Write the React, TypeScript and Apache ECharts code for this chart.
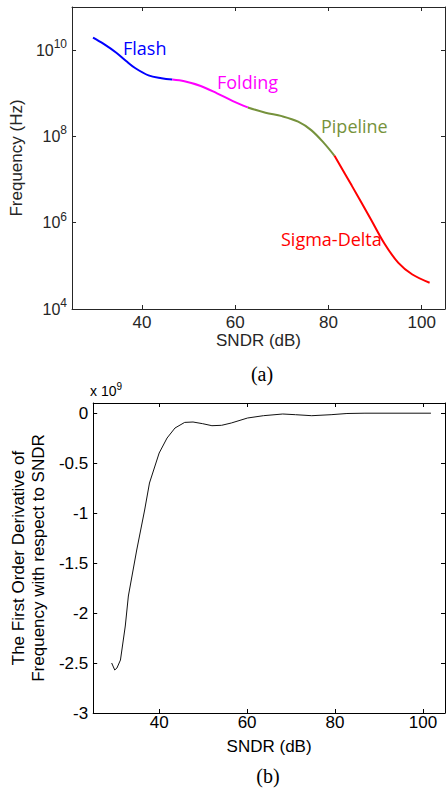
import React, { useEffect, useRef } from 'react';
import * as echarts from 'echarts';

// ---- Data (a): frequency vs SNDR, by ADC architecture ----
const flashSndr = [29.5, 31.7, 34.5, 36.6, 38.6, 41.4, 44.2, 46.5];
const flashFreq = [1.95e10, 1.41e10, 8.7e9, 5.6e9, 3.8e9, 2.6e9, 2.24e9, 2.09e9];
const foldingSndr = [46.5, 49.1, 52.6, 56.1, 59.5, 62.7];
const foldingFreq = [2.09e9, 1.9e9, 1.48e9, 1.0e9, 6.6e8, 4.7e8];
const pipelineSndr = [62.7, 66.5, 70.0, 73.5, 76.3, 79.1, 81.3];
const pipelineFreq = [4.7e8, 3.55e8, 2.95e8, 2.2e8, 1.4e8, 6.9e7, 3.55e7];
const sigmaSndr = [81.3, 85.0, 89.0, 92.0, 95.0, 98.0, 101.7];
const sigmaFreq = [3.55e7, 7.24e6, 1.26e6, 3.31e5, 1.17e5, 6.3e4, 4.07e4];

// ---- Data (b): first-order derivative (x 10^9) ----
const derivSndr = [29.2, 29.9, 30.4, 31.2, 32.3, 33.0, 34.9, 36.7, 37.8, 40.0, 41.8, 43.6, 45.8, 47.7, 49.9, 52.0, 54.2, 56.4, 60.1, 63.7, 68.1, 71.0, 74.7, 79.1, 82.7, 86.8, 101.8];
const derivValue = [-2.5, -2.57, -2.55, -2.47, -2.13, -1.83, -1.37, -0.97, -0.7, -0.4, -0.25, -0.15, -0.094, -0.09, -0.107, -0.127, -0.123, -0.1, -0.05, -0.027, -0.01, -0.017, -0.027, -0.017, -0.005, -0.002, -0.002];

// ---- Tick labels ----
const sndrTicks = [40, 60, 80, 100];
const freqTickExponents = [4, 6, 8, 10];
const derivTicks = [0, -0.5, -1, -1.5, -2, -2.5, -3];

const zip = (xs: number[], ys: number[]) => xs.map((x, i) => [x, ys[i]]);

const FONT = '"Liberation Sans", Arial, sans-serif';
const ANNOT_FONT = '"Open Sans", "Noto Sans", sans-serif';

export default function App() {
  const ref = useRef<HTMLDivElement>(null);

  useEffect(() => {
    if (!ref.current) return;
    const chart = echarts.init(ref.current, null, { renderer: 'svg' });

    const gray = '#262626';
    const black = '#000000';

    const xLabel = (color: string, margin: number) => ({
      color,
      fontSize: 17,
      fontFamily: FONT,
      margin,
      formatter: (v: number) => (sndrTicks.includes(v) ? String(v) : ''),
    });

    const boxAxis = (color: string) => ({
      axisLine: { show: true, onZero: false, lineStyle: { color, width: 1 } },
      axisTick: { show: true, inside: true, length: 4, lineStyle: { color } },
      axisLabel: { show: false },
      splitLine: { show: false },
    });

    const curve = (name: string, xs: number[], ys: number[], color: string) => ({
      type: 'line',
      name,
      xAxisIndex: 0,
      yAxisIndex: 0,
      data: zip(xs, ys),
      smooth: 0.35,
      showSymbol: false,
      lineStyle: { color, width: 2 },
      itemStyle: { color },
    });

    chart.setOption({
      animation: false,
      backgroundColor: '#ffffff',
      grid: [
        { left: 68, top: 7, width: 382.6, height: 302 },
        { left: 90, top: 403, width: 364.8, height: 310 },
      ],
      xAxis: [
        {
          gridIndex: 0,
          type: 'value',
          position: 'bottom',
          min: 25,
          max: 105,
          axisLine: { show: true, onZero: false, lineStyle: { color: gray, width: 1 } },
          axisTick: { show: true, inside: true, length: 4, lineStyle: { color: gray } },
          axisLabel: xLabel(gray, 5),
          splitLine: { show: false },
          name: 'SNDR (dB)',
          nameLocation: 'middle',
          nameGap: 21,
          nameTextStyle: { color: gray, fontSize: 17, fontFamily: FONT },
        },
        { gridIndex: 0, type: 'value', position: 'top', min: 25, max: 105, ...boxAxis(gray) },
        {
          gridIndex: 1,
          type: 'value',
          position: 'bottom',
          min: 25,
          max: 105,
          axisLine: { show: true, onZero: false, lineStyle: { color: black, width: 1 } },
          axisTick: { show: true, inside: true, length: 4, lineStyle: { color: black } },
          axisLabel: xLabel(black, 1),
          splitLine: { show: false },
          name: 'SNDR (dB)',
          nameLocation: 'middle',
          nameGap: 25,
          nameTextStyle: { color: black, fontSize: 17, fontFamily: FONT },
        },
        { gridIndex: 1, type: 'value', position: 'top', min: 25, max: 105, ...boxAxis(black) },
      ],
      yAxis: [
        {
          gridIndex: 0,
          type: 'log',
          logBase: 100,
          min: 1e4,
          max: 1e11,
          position: 'left',
          axisLine: { show: true, lineStyle: { color: gray, width: 1 } },
          axisTick: { show: true, inside: true, length: 4, lineStyle: { color: gray } },
          splitLine: { show: false },
          axisLabel: {
            margin: 5,
            color: gray,
            fontFamily: FONT,
            formatter: (v: number) => {
              const e = Math.round(Math.log10(v));
              return freqTickExponents.includes(e) ? `{b|10}{s|${e}}` : '';
            },
            rich: {
              b: { fontSize: 16, fontFamily: FONT, color: gray },
              s: { fontSize: 12, fontFamily: FONT, color: gray, padding: [0, 0, 12, 0] },
            },
          },
          name: 'Frequency (Hz)',
          nameLocation: 'middle',
          nameRotate: 90,
          nameGap: 43,
          nameTextStyle: { color: gray, fontSize: 17, fontFamily: FONT },
        },
        { gridIndex: 0, type: 'log', logBase: 100, min: 1e4, max: 1e11, position: 'right', ...boxAxis(gray) },
        {
          gridIndex: 1,
          type: 'value',
          min: -3,
          max: 0.1,
          interval: 0.5,
          position: 'left',
          axisLine: { show: true, onZero: false, lineStyle: { color: black, width: 1 } },
          axisTick: { show: true, inside: true, length: 4, lineStyle: { color: black } },
          splitLine: { show: false },
          axisLabel: {
            margin: 5,
            color: black,
            fontSize: 17,
            fontFamily: FONT,
            formatter: (v: number) => {
              const r = Math.round(v * 10) / 10;
              return derivTicks.includes(r) && Math.abs(v - r) < 1e-6 ? String(r) : '';
            },
          },
          name: 'The First Order Derivative of\nFrequency with respect to SNDR',
          nameLocation: 'middle',
          nameRotate: 90,
          nameGap: 41,
          nameTextStyle: { color: black, fontSize: 17, fontFamily: FONT, lineHeight: 20 },
        },
        { gridIndex: 1, type: 'value', min: -3, max: 0.1, interval: 0.5, position: 'right', ...boxAxis(black) },
      ],
      series: [
        curve('Flash', flashSndr, flashFreq, '#0000ff'),
        curve('Folding', foldingSndr, foldingFreq, '#ff00ff'),
        curve('Pipeline', pipelineSndr, pipelineFreq, '#76923c'),
        curve('Sigma-Delta', sigmaSndr, sigmaFreq, '#ff0000'),
        { type: 'line', name: 'Derivative', xAxisIndex: 2, yAxisIndex: 2, data: zip(derivSndr, derivValue), smooth: false, showSymbol: false, lineStyle: { color: '#111111', width: 1 }, itemStyle: { color: '#111111' } },
      ],
      graphic: [
        { type: 'text', x: 123, y: 48, style: { text: 'Flash', fill: '#0000ff', font: `18px ${ANNOT_FONT}`, verticalAlign: 'middle' } },
        { type: 'text', x: 217, y: 82, style: { text: 'Folding', fill: '#ff00ff', font: `18px ${ANNOT_FONT}`, verticalAlign: 'middle' } },
        { type: 'text', x: 321, y: 126, style: { text: 'Pipeline', fill: '#76923c', font: `18px ${ANNOT_FONT}`, verticalAlign: 'middle' } },
        { type: 'text', x: 281, y: 239, style: { text: 'Sigma-Delta', fill: '#ff0000', font: `18px ${ANNOT_FONT}`, verticalAlign: 'middle' } },
        { type: 'text', x: 262, y: 374, style: { text: '(a)', fill: '#000', font: '20px "Liberation Serif", "Times New Roman", serif', align: 'center', verticalAlign: 'middle' } },
        { type: 'text', x: 268, y: 776, style: { text: '(b)', fill: '#000', font: '20px "Liberation Serif", "Times New Roman", serif', align: 'center', verticalAlign: 'middle' } },
        {
          type: 'text',
          x: 90,
          y: 391,
          style: {
            text: '{b|x 10}{s|9}',
            verticalAlign: 'middle',
            rich: {
              b: { fontSize: 14, fontFamily: FONT, fill: '#000', color: '#000' },
              s: { fontSize: 10, fontFamily: FONT, fill: '#000', color: '#000', padding: [0, 0, 10, 0] },
            },
          },
        },
      ],
    });

    return () => chart.dispose();
  }, []);

  return (
    <div
      ref={ref}
      style={{ position: 'fixed', left: 0, top: 0, width: 448, height: 794, background: '#fff' }}
    />
  );
}
